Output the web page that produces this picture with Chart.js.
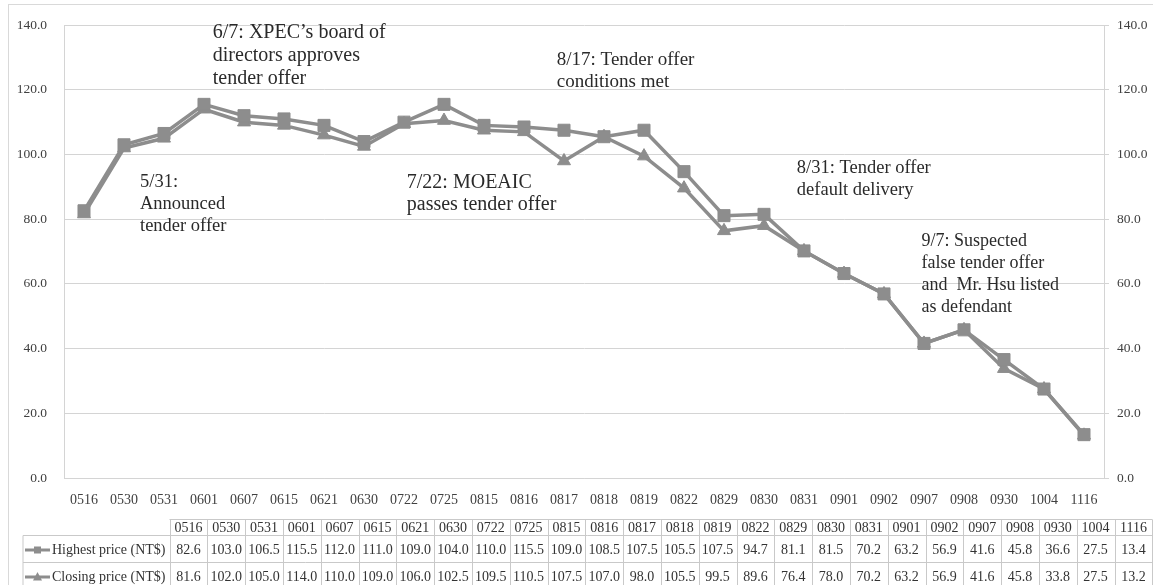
<!DOCTYPE html>
<html>
<head>
<meta charset="utf-8">
<script src="https://cdn.jsdelivr.net/npm/chart.js@4/dist/chart.umd.min.js"></script>
<style>
html,body{margin:0;padding:0;background:#fff;}
#wrap{width:1153px;height:585px;position:relative;}
</style>
</head>
<body>
<div id="wrap"><canvas id="c" width="1153" height="585"></canvas></div>
<script>
const categories = ["0516","0530","0531","0601","0607","0615","0621","0630","0722","0725","0815","0816","0817","0818","0819","0822","0829","0830","0831","0901","0902","0907","0908","0930","1004","1116"];
const highestPrice = [82.6,103.0,106.5,115.5,112.0,111.0,109.0,104.0,110.0,115.5,109.0,108.5,107.5,105.5,107.5,94.7,81.1,81.5,70.2,63.2,56.9,41.6,45.8,36.6,27.5,13.4];
const closingPrice = [81.6,102.0,105.0,114.0,110.0,109.0,106.0,102.5,109.5,110.5,107.5,107.0,98.0,105.5,99.5,89.6,76.4,78.0,70.2,63.2,56.9,41.6,45.8,33.8,27.5,13.2];
const seriesNames = ["Highest price (NT$)","Closing price (NT$)"];
const yTicks = [0,20,40,60,80,100,120,140];
// annotation anchors: category index (fractional) and value at the centre of the first line
const annotations = [
  {x: 3.22, y: 137.7, size: 20, gap: 23, lines: ["6/7: XPEC\u2019s board of","directors approves","tender offer"]},
  {x: 1.4,  y: 91.4,  size: 18.5, gap: 22, lines: ["5/31:","Announced","tender offer"]},
  {x: 8.07, y: 91.4,  size: 20, gap: 22, lines: ["7/22: MOEAIC","passes tender offer"]},
  {x: 11.82,y: 129.3, size: 19, gap: 22, lines: ["8/17: Tender offer","conditions met"]},
  {x: 17.82,y: 95.7,  size: 18.5, gap: 22, lines: ["8/31: Tender offer","default delivery"]},
  {x: 20.94,y: 73.3,  size: 18, gap: 22, lines: ["9/7: Suspected","false tender offer","and  Mr. Hsu listed","as defendant"]}
];

const GRAY = '#8d8d8d';
const GRID = '#d4d4d4';
const FONT = '"Liberation Serif", "Times New Roman", serif';

const extras = {
  id: 'extras',
  beforeDraw(chart){
    const ctx = chart.ctx;
    ctx.save();
    ctx.strokeStyle = '#d9d9d9';
    ctx.lineWidth = 1;
    ctx.strokeRect(8.5, 4.5, 1160, 620);
    ctx.restore();
  },
  afterDraw(chart){
    const ctx = chart.ctx;
    const xs = chart.scales.x, ys = chart.scales.y;
    ctx.save();
    // annotations
    ctx.fillStyle = '#2a2a2a';
    ctx.textAlign = 'left';
    ctx.textBaseline = 'middle';
    annotations.forEach(a => {
      ctx.font = a.size + 'px ' + FONT;
      const px = xs.getPixelForValue(a.x);
      const py = ys.getPixelForValue(a.y);
      a.lines.forEach((t, i) => ctx.fillText(t, px, py + i * a.gap));
    });
    // data table
    const left = 23, headRight = 169.5, colW = 37.8;
    const rHead = [519.5, 535.5], r1 = [535.5, 562.5], r2 = [562.5, 589.5];
    const n = categories.length;
    const right = headRight + n * colW;
    ctx.strokeStyle = '#c9c9c9';
    ctx.lineWidth = 1;
    ctx.beginPath();
    ctx.moveTo(headRight, rHead[0]); ctx.lineTo(right, rHead[0]);
    ctx.moveTo(left, r1[0]); ctx.lineTo(right, r1[0]);
    ctx.moveTo(left, r2[0]); ctx.lineTo(right, r2[0]);
    ctx.moveTo(left, r2[1]); ctx.lineTo(right, r2[1]);
    ctx.moveTo(left, r1[0]); ctx.lineTo(left, r2[1]);
    for (let i = 0; i <= n; i++) {
      const x = Math.round(headRight + i * colW) + 0.5;
      ctx.moveTo(x, rHead[0]); ctx.lineTo(x, r2[1]);
    }
    ctx.stroke();
    ctx.fillStyle = '#333';
    ctx.font = '14px ' + FONT;
    ctx.textAlign = 'center';
    ctx.textBaseline = 'middle';
    const mid = r => (r[0] + r[1]) / 2 + 1;
    for (let i = 0; i < n; i++) {
      const cx = headRight + i * colW + colW / 2;
      ctx.fillText(categories[i], cx, mid(rHead));
      ctx.fillText(highestPrice[i].toFixed(1), cx, mid(r1));
      ctx.fillText(closingPrice[i].toFixed(1), cx, mid(r2));
    }
    // row headers with legend keys
    const rows = [[r1, 'rect'], [r2, 'triangle']];
    rows.forEach((row, k) => {
      const y = mid(row[0]);
      ctx.strokeStyle = GRAY;
      ctx.lineWidth = 3;
      ctx.beginPath(); ctx.moveTo(25, y); ctx.lineTo(50, y); ctx.stroke();
      ctx.fillStyle = GRAY;
      ctx.beginPath();
      if (row[1] === 'rect') { ctx.rect(34, y - 3.5, 7, 7); }
      else { ctx.moveTo(37.5, y - 5); ctx.lineTo(42, y + 3.5); ctx.lineTo(33, y + 3.5); ctx.closePath(); }
      ctx.fill();
      ctx.fillStyle = '#333';
      ctx.textAlign = 'left';
      ctx.fillText(seriesNames[k], 52, y);
    });
    ctx.restore();
  }
};

new Chart(document.getElementById('c'), {
  type: 'line',
  data: {
    labels: categories,
    datasets: [
      {label: seriesNames[0], data: highestPrice, borderColor: GRAY, backgroundColor: GRAY,
       borderWidth: 3.5, pointStyle: 'rect', pointRadius: 8.5, pointBackgroundColor: GRAY,
       pointBorderColor: GRAY, pointBorderWidth: 1, tension: 0, yAxisID: 'y'},
      {label: seriesNames[1], data: closingPrice, borderColor: GRAY, backgroundColor: GRAY,
       borderWidth: 3.5, pointStyle: 'triangle', pointRadius: 7.5, pointBackgroundColor: GRAY,
       pointBorderColor: GRAY, pointBorderWidth: 1, tension: 0, yAxisID: 'y'}
    ]
  },
  options: {
    responsive: false,
    animation: false,
    devicePixelRatio: 1,
    layout: {padding: {top: 21, bottom: 0, left: 0, right: 0}},
    plugins: {legend: {display: false}, tooltip: {enabled: false}},
    scales: {
      x: {
        offset: true,
        grid: {display: false, drawTicks: false},
        border: {display: true, color: GRID},
        ticks: {color: '#404040', font: {family: FONT, size: 14}, padding: 14, maxRotation: 0, autoSkip: false},
        afterFit(s){ s.height = 107; }
      },
      y: {
        position: 'left',
        min: 0, max: 140,
        afterBuildTicks(s){ s.ticks = yTicks.map(v => ({value: v})); },
        grid: {color: GRID, drawTicks: false},
        border: {display: true, color: GRID},
        ticks: {color: '#404040', font: {family: FONT, size: 13.5}, padding: 17, callback: v => Number(v).toFixed(1)},
        afterFit(s){ s.width = 64; }
      },
      y2: {
        position: 'right',
        display: true,
        min: 0, max: 140,
        afterBuildTicks(s){ s.ticks = yTicks.map(v => ({value: v})); },
        grid: {color: GRID, drawOnChartArea: false, drawTicks: true, tickLength: 5},
        border: {display: true, color: GRID},
        ticks: {color: '#404040', font: {family: FONT, size: 13.5}, padding: 8, callback: v => Number(v).toFixed(1)},
        afterFit(s){ s.width = 49; }
      }
    }
  },
  plugins: [extras]
});
</script>
</body>
</html>
